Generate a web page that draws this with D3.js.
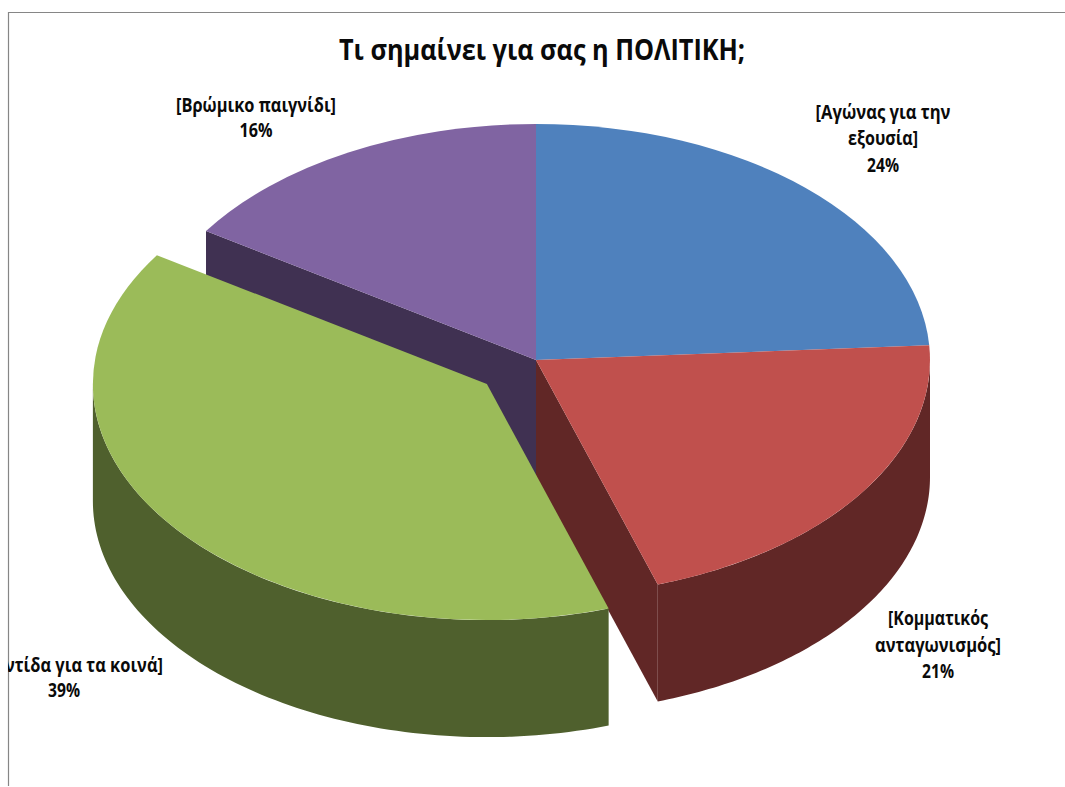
<!DOCTYPE html>
<html>
<head>
<meta charset="utf-8">
<script src="https://cdn.jsdelivr.net/npm/d3@7"></script>
<style>
  html, body { margin: 0; padding: 0; background: #fff; }
  svg { display: block; }
  text { font-family: "Open Sans", "Noto Sans", sans-serif; font-weight: 700; fill: #0a0a0a; }
</style>
</head>
<body>
<div id="chart"></div>
<script>
const title = "Τι σημαίνει για σας η ΠΟΛΙΤΙΚΗ;";
const categories = ["Αγώνας για την εξουσία", "Κομματικός ανταγωνισμός", "Φροντίδα για τα κοινά", "Βρώμικο παιγνίδι"];
const values = [24, 21, 39.2, 15.8];
const percentLabels = ["24%", "21%", "39%", "16%"];
const labelLines = [
  ["[Αγώνας για την", "εξουσία]"],
  ["[Κομματικός", "ανταγωνισμός]"],
  ["[Φροντίδα για τα κοινά]"],
  ["[Βρώμικο παιγνίδι]"]
];
const topColors = ["#4f81bd", "#c0504d", "#9bbb59", "#8064a2"];
const sideColors = ["#2c4d75", "#612726", "#4f602d", "#403152"];
const exploded = [0, 0, 0.157, 0];

const width = 1065, height = 787;
const cx = 536, cy = 360, rx = 394, ry = 236, depth = 117;
const explodeLift = 1.07;

const svg = d3.select("#chart").append("svg").attr("width", width).attr("height", height);

// chart area, the long label gets cut by it
svg.append("clipPath").attr("id", "area").append("rect")
  .attr("x", 8).attr("y", 12).attr("width", width).attr("height", height);
svg.append("path")
  .attr("d", d3.line()([[8.5, 786], [8.5, 12.5], [width, 12.5]]))
  .attr("fill", "none").attr("stroke", "#868686").attr("stroke-width", 1.2);

const xs = d3.scaleLinear().domain([-1, 1]).range([cx - rx, cx + rx]);
const ys = d3.scaleLinear().domain([-1, 1]).range([cy + ry, cy - ry]);

const pie = d3.pie().sort(null)(values);
const slices = pie.map((d) => {
  const mid = (d.startAngle + d.endAngle) / 2;
  const e = exploded[d.index];
  return {
    ...d,
    dx: xs(e * Math.sin(mid)) - xs(0),
    dy: (ys(e * Math.cos(mid)) - ys(0)) * explodeLift
  };
});

const line = d3.line();
const pt = (s, a, z) => [xs(Math.sin(a)) + s.dx, ys(Math.cos(a)) + s.dy + z];
const centre = (s, z) => [xs(0) + s.dx, ys(0) + s.dy + z];

// cut face of a slice at angle a
function cutFace(s, a) {
  return line([centre(s, 0), pt(s, a, 0), pt(s, a, depth), centre(s, depth)]) + "Z";
}

// outer wall, only the part which faces the viewer (90deg to 270deg)
function outerWall(s) {
  const a0 = Math.max(s.startAngle, Math.PI / 2);
  const a1 = Math.min(s.endAngle, Math.PI * 1.5);
  if (a1 <= a0) return null;
  const steps = d3.range(0, 91).map((i) => a0 + ((a1 - a0) * i) / 90);
  const top = steps.map((a) => pt(s, a, 0));
  const bottom = steps.slice().reverse().map((a) => pt(s, a, depth));
  return line(top.concat(bottom)) + "Z";
}

const arc = d3.arc().innerRadius(0).outerRadius(rx);

function drawTop(s) {
  svg.append("path")
    .attr("d", arc(s))
    .attr("transform", `translate(${cx + s.dx},${cy + s.dy}) scale(1,${ry / rx})`)
    .attr("fill", topColors[s.index]);
}

function drawSide(s, d) {
  svg.append("path").attr("d", d).attr("fill", sideColors[s.index]);
}

const [blue, red, green, purple] = slices;

// back to front
drawSide(purple, cutFace(purple, purple.startAngle));
drawSide(red, cutFace(red, red.endAngle));
drawSide(red, outerWall(red));
drawTop(blue);
drawTop(red);
drawTop(purple);
drawSide(green, outerWall(green));
drawTop(green);

// text
svg.append("text")
  .attr("x", 339).attr("y", 60)
  .attr("font-size", 28)
  .attr("textLength", 406).attr("lengthAdjust", "spacingAndGlyphs")
  .text(title);

const labelLayout = [
  { x: 883, y: [119, 145, 172], w: [135, 70], pw: 32 },
  { x: 938, y: [625, 652, 678], w: [100, 126], pw: 32 },
  { x: 64, y: [672, 697], w: [198], pw: 32 },
  { x: 256, y: [112, 137], w: [160], pw: 33 }
];

const labels = svg.append("g").attr("clip-path", "url(#area)");
categories.forEach((c, i) => {
  const l = labelLayout[i];
  const rows = labelLines[i].map((t, j) => ({ t, w: l.w[j] }));
  rows.push({ t: percentLabels[i], w: l.pw });
  rows.forEach((r, j) => {
    labels.append("text")
      .attr("x", l.x - r.w / 2).attr("y", l.y[j])
      .attr("font-size", 20)
      .attr("textLength", r.w).attr("lengthAdjust", "spacingAndGlyphs")
      .text(r.t);
  });
});
</script>
</body>
</html>
